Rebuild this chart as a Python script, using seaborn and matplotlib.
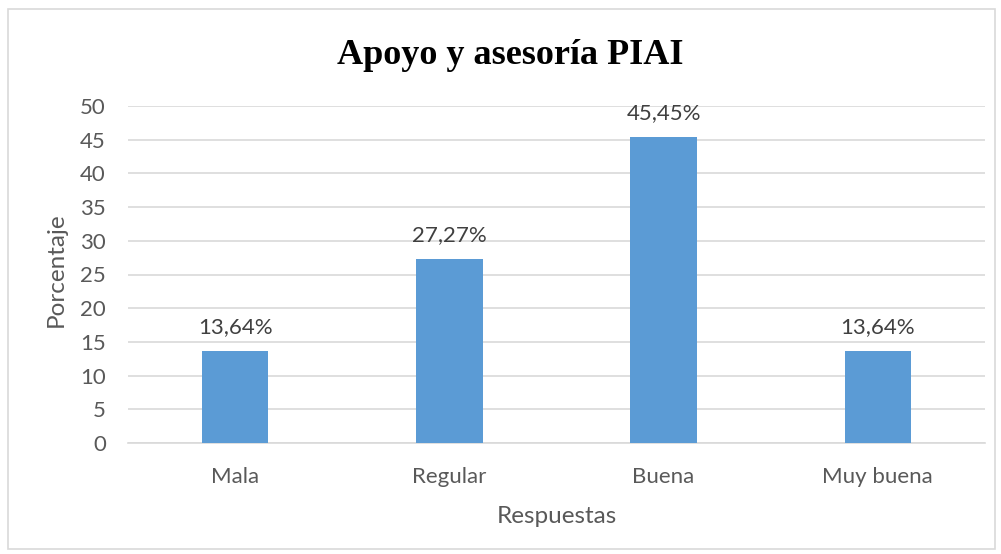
import matplotlib
matplotlib.use("Agg")
import matplotlib.pyplot as plt
import seaborn as sns
import pandas as pd
from matplotlib.patches import Rectangle

categories = ["Mala", "Regular", "Buena", "Muy buena"]
values = [13.64, 27.27, 45.45, 13.64]
labels = ["13,64%", "27,27%", "45,45%", "13,64%"]
yticks = [0, 5, 10, 15, 20, 25, 30, 35, 40, 45, 50]

df = pd.DataFrame({"Respuestas": categories, "Porcentaje": values})

sns.set_style("white")
plt.rcParams["font.family"] = ["Lato", "DejaVu Sans"]

W, H = 1001, 554
fig = plt.figure(figsize=(W / 100, H / 100), dpi=100)
ax = fig.add_axes([128 / W, 1 - 443 / H, (985 - 128) / W, (443 - 106) / H])

sns.barplot(data=df, x="Respuestas", y="Porcentaje", color="#5B9BD5",
            width=0.31, saturation=1, linewidth=0, ax=ax, zorder=3)

ax.set_ylim(0, 50)
ax.set_xlim(-0.5, 3.5)
ax.set_yticks(yticks)
ax.yaxis.grid(True, color="#D9D9D9", linewidth=1.2, zorder=0)
ax.set_axisbelow(True)
for s in ["top", "right", "left"]:
    ax.spines[s].set_visible(False)
ax.spines["bottom"].set_color("#D9D9D9")
ax.spines["bottom"].set_linewidth(1.2)
ax.tick_params(axis="both", length=0, labelsize=16, labelcolor="#595959")
ax.tick_params(axis="x", pad=17)
ax.tick_params(axis="y", pad=16)

# etiquetas de porcentaje sobre cada barra
for i, (v, lab) in enumerate(zip(values, labels)):
    ax.annotate(lab, (i, v), xytext=(0, 13), textcoords="offset points",
                ha="center", va="baseline", fontsize=16, color="#404040")

ax.set_xlabel("Respuestas", fontsize=17.5, color="#595959", labelpad=14)
ax.set_ylabel("Porcentaje", fontsize=17.5, color="#595959")
ax.yaxis.set_label_coords(-0.071, 0.515)

fig.text(0.51, 1 - 55 / H, "Apoyo y asesoría PIAI", ha="center", va="center",
         fontsize=26, fontweight="bold", color="black",
         family=["Liberation Serif", "DejaVu Serif"])

fig.patches.append(Rectangle((8 / W, 1 - 549 / H), (995 - 8) / W, (549 - 9) / H,
                             transform=fig.transFigure, fill=False,
                             edgecolor="#D9D9D9", linewidth=1.2))

fig.savefig("out.png", dpi=100)
